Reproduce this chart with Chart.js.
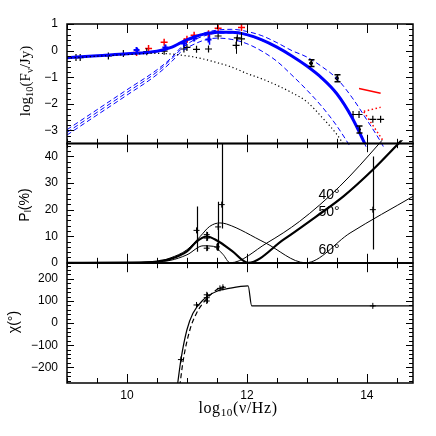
<!DOCTYPE html>
<html><head><meta charset="utf-8">
<script src="https://cdn.jsdelivr.net/npm/chart.js@4.4.1/dist/chart.umd.min.js"></script>
<style>
html,body{margin:0;padding:0;background:#fff;width:436px;height:436px;overflow:hidden}
#wrap{position:relative;width:436px;height:436px}
canvas{position:absolute;left:0}
.lbl{position:absolute;white-space:nowrap;color:#000;line-height:1}
.serif{font-family:"Liberation Serif","DejaVu Serif",serif;font-size:15px}
.sans{font-family:"Liberation Sans","DejaVu Sans",sans-serif;font-size:14px}
.rot{transform:translate(-50%,-50%) rotate(-90deg)}
.ctr{transform:translate(-50%,-50%)}
sub{font-size:70%;vertical-align:-0.25em}
</style></head><body>
<div id="wrap">
<canvas id="c1" style="top:0px" width="436" height="150"></canvas>
<canvas id="c2" style="top:138px" width="436" height="131"></canvas>
<canvas id="c3" style="top:258px" width="436" height="178"></canvas>
<div class="lbl serif rot" style="left:27px;top:81px">log<sub>10</sub>(F<sub>ν</sub>/Jy)</div>
<div class="lbl sans rot" style="left:25px;top:205px">P<sub>l</sub>(%)</div>
<div class="lbl sans rot" style="left:13px;top:322px">χ(°)</div>
<div class="lbl serif ctr" style="left:238px;top:409px;font-size:16px;letter-spacing:0.6px">log<sub>10</sub>(ν/Hz)</div>
<div class="lbl sans ctr" style="left:329px;top:194px">40°</div>
<div class="lbl sans ctr" style="left:329px;top:211px">50°</div>
<div class="lbl sans ctr" style="left:329px;top:249px">60°</div>
</div>
<script>
// ---------- top panel: SED (log10 F_nu / Jy) ----------
const sedX       = [9, 9.5, 10, 10.5, 10.75, 10.9, 11.1, 11.3, 11.5, 11.75, 12, 12.25, 12.5, 12.75, 13, 13.25, 13.5, 13.75, 14, 14.25, 14.5];
const sedTotal   = [-0.27,-0.19,-0.12,-0.02,0.13,0.3,0.5,0.63,0.69,0.69,0.6,0.4,0.13,-0.2,-0.58,-1.03,-1.62,-2.5,-3.65,null,null];
const sedSyncHi  = [-2.97,-2.22,-1.47,-0.72,-0.25,0.12,0.47,0.67,0.77,0.8,0.72,0.56,0.3,0.0,-0.24,-0.6,-1.05,-1.75,-2.6,-3.5,-4.6];
const sedSyncMid = [-3.07,-2.32,-1.57,-0.8,-0.3,0.05,0.38,0.56,0.65,0.66,0.58,0.38,0.11,-0.22,-0.6,-1.05,-1.64,-2.52,-3.67,null,null];
const sedSyncLo  = [-3.17,-2.42,-1.67,-0.9,-0.4,-0.05,0.22,0.4,0.47,0.42,0.26,-0.02,-0.4,-0.92,-1.48,-2.1,-2.83,-3.7,null,null,null];
const sedJet     = [-0.28,-0.21,-0.15,-0.1,-0.13,-0.17,-0.23,-0.33,-0.45,-0.62,-0.86,-1.06,-1.3,-1.58,-1.92,-2.5,-3.15,-4.0,null,null,null];

const blackX   = [9.15, 9.22, 9.69, 9.94, 10.33, 10.62, 10.95, 11.0, 11.16, 11.36, 11.52, 11.82, 11.84, 11.91, 13.77, 13.87, 14.1, 14.23];
const blackY   = [-0.26,-0.26,-0.2,-0.11,-0.04,-0.02,0.06,0.12,0.05,0.06,0.55,0.2,0.48,0.44,-2.4,-2.4,-2.58,-2.58];
const blackErr = [0,0,0,0,0,0,0,0,0,0,0,0.32,0,0.25,0,0,0,0];
const barX     = [13.07, 13.5, 13.87];
const barY     = [-0.47, -1.04, -2.96];
const barErr   = [0.13, 0.13, 0.13];
const redX     = [10.16, 10.36, 10.62, 10.96, 11.0, 11.12, 11.36, 11.52, 11.91];
const redY     = [-0.07, 0.08, 0.31, 0.33, 0.43, 0.58, 0.63, 0.84, 0.87];
const blueX    = [10.16, 10.64, 10.95, 11.12, 11.36];
const blueY    = [0.02, 0.12, 0.27, 0.46, 0.42];
const blueErr  = [0.08, 0.1, 0.1, 0.1, 0.2];
const irSlopeX = [13.87, 14.23];
const irSlopeY = [-1.42, -1.6];
const irDot1X  = [13.95, 14.23];
const irDot1Y  = [-2.28, -2.13];
const irDot2X  = [13.95, 14.27];
const irDot2Y  = [-2.3, -3.38];

// ---------- middle panel: linear polarization (%) ----------
const p40X = [9, 10, 10.5, 10.72, 11.0, 11.27, 11.44, 11.6, 11.72, 12.33, 12.88, 13.55, 14.22, 14.4];
const p40Y = [0, 0.1, 0.4, 0.9, 3.0, 6.4, 6.2, 3.2, 0, 7.4, 15.6, 28.8, 45.2, 50];
const p50X = [9, 10, 10.5, 10.72, 11.0, 11.16, 11.33, 11.5, 11.75, 12.02, 12.61, 13.16, 13.61, 14.1, 14.54, 14.7];
const p50Y = [0, 0.1, 0.5, 1.4, 4.3, 8.0, 9.9, 8.4, 4.5, 0, 8.7, 17.5, 25, 35, 45.2, 49];
const p60X = [9, 10, 10.5, 10.72, 11.0, 11.22, 11.38, 11.55, 11.66, 12.3, 12.98, 13.72, 14.77];
const p60Y = [0, 0.1, 0.5, 1.8, 4.9, 9.9, 13.7, 15.0, 14.6, 7.6, 0, 11.2, 25];
const polX     = [11.16, 11.33, 11.33, 11.33, 11.52, 11.50, 11.58, 14.1];
const polY     = [12.2, 10.6, 9.3, 5.5, 13.5, 6.0, 21.9, 20.0];
const polErrLo = [8, 1, 1, 1, 9, 1.5, 9, 15];
const polErrHi = [9, 1, 1, 1, 9.5, 1.5, 30, 20];

// ---------- bottom panel: polarization angle chi (deg) ----------
const chiSolidX = [10.84, 10.9, 11.0, 11.1, 11.27, 11.49, 11.72, 12.02, 12.08, 14.77];
const chiSolidY = [-285, -165, -30, 45, 105, 143, 158, 168, 78, 78];
const chiDashX  = [10.88, 10.94, 11.05, 11.16, 11.33, 11.5, 11.62];
const chiDashY  = [-285, -165, -30, 45, 110, 152, 165];
const chiX   = [10.9, 11.16, 11.33, 11.33, 11.33, 11.55, 11.6, 14.1];
const chiY   = [-165, 82, 128, 115, 100, 157, 162, 78];
const chiErr = [8, 5, 10, 10, 10, 5, 5, 3];

// axis ranges
const X_MIN = 9, X_MAX = 14.77;

const xy = (xs, ys) => xs.map((x,i)=>({x, y: ys[i]})).filter(p=>p.y!==null);
const near = (v,m) => Math.abs(v/m - Math.round(v/m)) < 1e-6;
const fmt = v => { const r = Math.round(v); return (r<0?'\u2212':'') + Math.abs(r); };
const TICKFONT = {family:'"Liberation Sans","DejaVu Sans",sans-serif', size:12};

const frameTicks = {
  id:'frameTicks',
  afterDraw(chart, args, o){
    const {ctx, chartArea:a, scales} = chart;
    const xs = scales.x, ys = scales.y;
    ctx.save();
    ctx.strokeStyle='#000'; ctx.lineWidth=1;
    ctx.beginPath();
    xs.ticks.forEach(t=>{
      const px = Math.round(xs.getPixelForValue(t.value))+0.5;
      const L = near(t.value, o.xMajor) ? 9 : 5;
      ctx.moveTo(px,a.top); ctx.lineTo(px,a.top+L);
      ctx.moveTo(px,a.bottom); ctx.lineTo(px,a.bottom-L);
    });
    ys.ticks.forEach(t=>{
      const py = Math.round(ys.getPixelForValue(t.value))+0.5;
      const L = near(t.value, o.yMajor) ? 7 : 4;
      ctx.moveTo(a.left,py); ctx.lineTo(a.left+L,py);
      ctx.moveTo(a.right,py); ctx.lineTo(a.right-L,py);
    });
    ctx.stroke();
    ctx.lineWidth=1.5;
    ctx.strokeRect(a.left, a.top, a.right-a.left, a.bottom-a.top);
    ctx.restore();
  }
};

const errBars = {
  id:'errBars',
  afterDatasetsDraw(chart){
    const {ctx, chartArea:a} = chart;
    const xs = chart.scales.x, ys = chart.scales.y;
    ctx.save();
    ctx.beginPath(); ctx.rect(a.left, a.top, a.right-a.left, a.bottom-a.top); ctx.clip();
    chart.data.datasets.forEach(ds=>{
      if(!ds.errLo) return;
      ctx.strokeStyle = ds.borderColor; ctx.lineWidth = ds.errWidth || 1;
      ctx.beginPath();
      ds.data.forEach((p,i)=>{
        if(!ds.errLo[i] && !ds.errHi[i]) return;
        const px = Math.round(xs.getPixelForValue(p.x))+0.5;
        const y1 = ys.getPixelForValue(p.y - ds.errLo[i]);
        const y2 = ys.getPixelForValue(p.y + ds.errHi[i]);
        ctx.moveTo(px,y1); ctx.lineTo(px,y2);
        if(ds.cap){
          ctx.moveTo(px-ds.cap,y1); ctx.lineTo(px+ds.cap,y1);
          ctx.moveTo(px-ds.cap,y2); ctx.lineTo(px+ds.cap,y2);
        }
      });
      ctx.stroke();
    });
    ctx.restore();
  }
};

function xAxis(showLabels, h){
  return {type:'linear', min:X_MIN, max:X_MAX, position:'bottom',
    grid:{display:false, drawTicks:false}, border:{display:false},
    ticks:{display:showLabels, stepSize:0.5, includeBounds:false, autoSkip:false, maxRotation:0,
      padding:5, color:'#000', font:TICKFONT,
      callback:v => near(v,2) && v>9.5 ? String(Math.round(v)) : ''},
    afterFit(s){ s.height = h; }
  };
}
function yAxis(min,max,step,major){
  return {type:'linear', min, max, position:'left',
    grid:{display:false, drawTicks:false}, border:{display:false},
    ticks:{stepSize:step, includeBounds:false, autoSkip:false, padding:9, color:'#000', font:TICKFONT,
      callback:v => near(v,major) ? fmt(v) : ''},
    afterFit(s){ s.width = 67; }
  };
}
function line(data, color, width, dash, extra){
  return Object.assign({data, borderColor:color, backgroundColor:color, borderWidth:width,
    borderDash:dash||[], pointRadius:0, fill:false, cubicInterpolationMode:'monotone', showLine:true}, extra||{});
}
function pts(data, color, r, bw, extra){
  return Object.assign({data, borderColor:color, backgroundColor:color, showLine:false,
    pointStyle:'cross', pointRadius:r, pointBorderWidth:bw, borderWidth:bw}, extra||{});
}
function baseOpts(yScale, xShow, xH, pad, xMajor, yMajor){
  return {responsive:false, maintainAspectRatio:false, animation:false, devicePixelRatio:1,
    layout:{padding:pad, autoPadding:false},
    plugins:{legend:{display:false}, tooltip:{enabled:false}, frameTicks:{xMajor, yMajor}},
    scales:{x:xAxis(xShow, xH), y:yScale}};
}

// build a chart, then size/position its canvas so the plot frame lands on [top, bottom] (page px)
function build(id, makeCfg, top, bottom){
  const cv = document.getElementById(id);
  let ch = new Chart(cv, makeCfg());
  const a = ch.chartArea;
  const extra = ch.height - (a.bottom - a.top);
  ch.destroy();
  cv.height = Math.round((bottom - top) + extra);
  cv.width = 436;
  ch = new Chart(cv, makeCfg());
  cv.style.top = (top - ch.chartArea.top) + 'px';
  return ch;
}

const BLUE = '#0000ff', RED = '#ff0000', BLACK = '#000000';

build('c1', () => ({
  type:'line',
  data:{datasets:[
    line(xy(sedX, sedJet), BLACK, 1.2, [1.2,2.6]),
    line(xy(sedX, sedSyncHi), BLUE, 1, [5,3], {clip:{left:0,right:0,top:0,bottom:3}}),
    line(xy(sedX, sedSyncMid), BLUE, 1, [5,3], {clip:{left:0,right:0,top:0,bottom:3}}),
    line(xy(sedX, sedSyncLo), BLUE, 1, [5,3], {clip:{left:0,right:0,top:0,bottom:3}}),
    line(xy(sedX, sedTotal), BLUE, 3, []),
    line(xy(irSlopeX, irSlopeY), RED, 1.5, [], {cubicInterpolationMode:'default'}),
    line(xy(irDot1X, irDot1Y), RED, 1.5, [1.5,2.5], {cubicInterpolationMode:'default'}),
    line(xy(irDot2X, irDot2Y), RED, 1.5, [1.5,2.5], {cubicInterpolationMode:'default'}),
    pts(xy(blackX, blackY), BLACK, 3.5, 1.2, {errLo:blackErr, errHi:blackErr}),
    pts(xy(barX, barY), BLACK, 2, 2, {errLo:barErr, errHi:barErr, cap:3, errWidth:1.5}),
    pts(xy(blueX, blueY), BLUE, 3, 2, {errLo:blueErr, errHi:blueErr, errWidth:1.5}),
    pts(xy(redX, redY), RED, 3.5, 1.5)
  ]},
  options: baseOpts(yAxis(-3.5, 1, 0.2, 1), false, 0, {top:24, bottom:6, left:0, right:23}, 2, 1),
  plugins:[errBars, frameTicks]
}), 24, 144);

build('c2', () => ({
  type:'line',
  data:{datasets:[
    line(xy(p40X, p40Y), BLACK, 1, [], {clip:{left:0,right:0,top:3,bottom:0}}),
    line(xy(p50X, p50Y), BLACK, 2.2, [], {clip:{left:0,right:0,top:3,bottom:0}}),
    line(xy(p60X, p60Y), BLACK, 1, []),
    pts(xy(polX, polY), BLACK, 3, 1, {errLo:polErrLo, errHi:polErrHi, errWidth:1.2})
  ]},
  options: baseOpts(yAxis(0, 45, 2, 10), false, 0, {top:5, bottom:6, left:0, right:23}, 2, 10),
  plugins:[errBars, frameTicks]
}), 143, 263);

build('c3', () => ({
  type:'line',
  data:{datasets:[
    line(xy(chiSolidX, chiSolidY), BLACK, 1.2, []),
    line(xy(chiDashX, chiDashY), BLACK, 1.2, [5,3]),
    pts(xy(chiX, chiY), BLACK, 3, 1, {errLo:chiErr, errHi:chiErr})
  ]},
  options: baseOpts(yAxis(-271, 271, 20, 100), true, 53, {top:5, bottom:0, left:0, right:23}, 2, 100),
  plugins:[errBars, frameTicks]
}), 263, 383);
</script>
</body></html>
